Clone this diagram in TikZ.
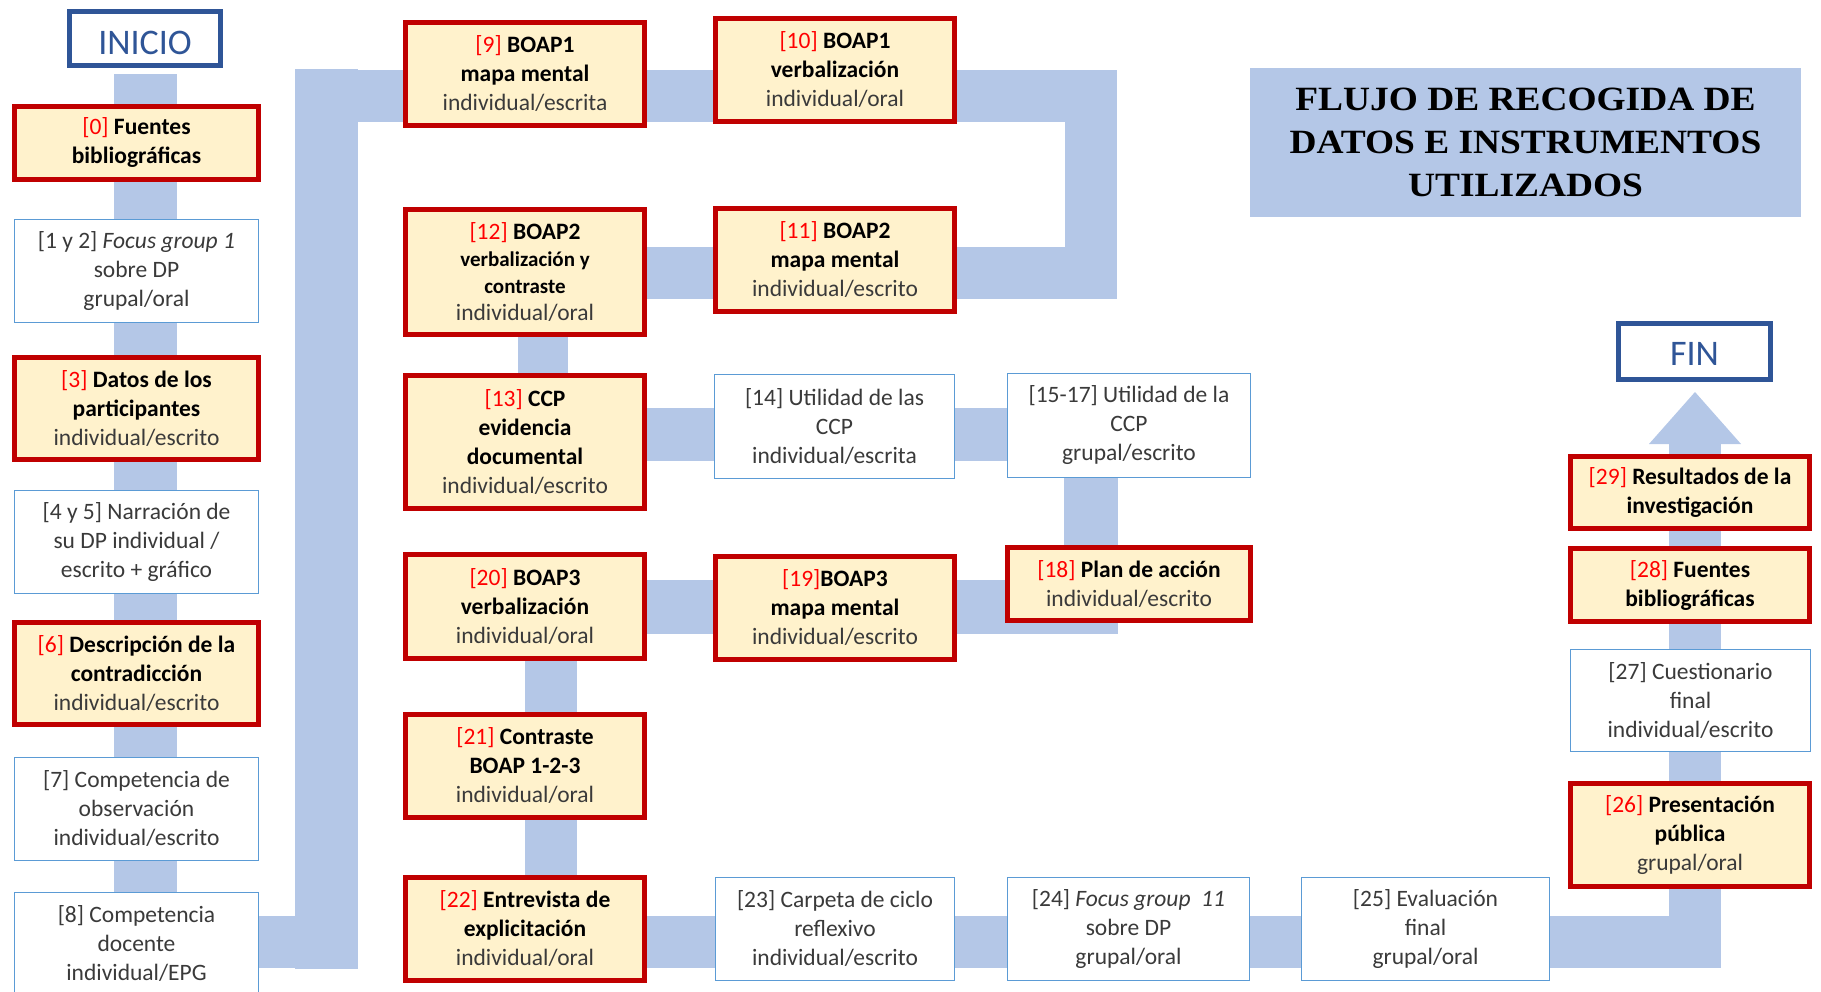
\documentclass[tikz,border=0pt]{standalone}
\usepackage{fontspec}
\setmainfont{Carlito}
\newfontfamily\titlefont[FakeStretch=1.1]{Liberation Serif}
\usetikzlibrary{backgrounds}

\definecolor{bandblue}{HTML}{B4C7E7}
\definecolor{boxred}{HTML}{C00000}
\definecolor{boxfill}{HTML}{FFF2CC}
\definecolor{thinblue}{HTML}{5B9BD5}
\definecolor{endblue}{HTML}{2F5597}
\definecolor{labred}{HTML}{FF0000}
\definecolor{txtgray}{HTML}{3A3A3A}

\newcommand\boxfont{\fontsize{23.5}{29}\selectfont}
\newcommand\lb[1]{\textcolor{labred}{[#1]}}
\newcommand\bb[1]{\textbf{\textcolor{black}{#1}}}

\tikzset{
  redbox/.style={draw=boxred, line width=5pt, fill=boxfill, align=center,
    inner sep=0pt, font=\boxfont, text=txtgray},
  thinbox/.style={draw=thinblue, line width=1.5pt, fill=white, align=center,
    inner sep=0pt, font=\boxfont, text=txtgray},
  endbox/.style={draw=endblue, line width=4.5pt, fill=white, inner sep=0pt,
    font=\fontsize{36}{40}\selectfont, text=endblue, text depth=0pt},
  band/.style={draw=bandblue, line width=52pt, line join=miter, line cap=butt},
  vband/.style={draw=bandblue, line width=63pt, line cap=butt},
  leftcol/.style={minimum width=244pt},
  midcol/.style={minimum width=239pt},
}

\begin{document}
\begin{tikzpicture}[x=1pt, y=-1pt]
\useasboundingbox (0,0) rectangle (1821,992);

% start and end markers (text sits a little below the middle)
\node[endbox, minimum width=151pt, minimum height=54pt, text height=33pt] (inicio) at (145,38.5) {INICIO};
\node[endbox, minimum width=152pt, minimum height=56pt, text height=28pt] (fin) at (1694.5,351.5) {FIN};

% title
\node[fill=bandblue, minimum width=551pt, minimum height=149pt, inner sep=0pt,
  align=center, font=\titlefont\bfseries\fontsize{34}{43}\selectfont] (title)
  at (1525.5,142.5) {FLUJO DE RECOGIDA DE\\DATOS E INSTRUMENTOS\\UTILIZADOS};

% left column
\node[redbox, leftcol, minimum height=73pt] (n0) at (136.5,143)
  {\lb{0} \bb{Fuentes}\\\bb{bibliográficas}};
\node[thinbox, leftcol, minimum height=103pt] (n1) at (136.5,271)
  {[1 y 2] \textit{Focus group 1}\\sobre DP\\grupal/oral};
\node[redbox, leftcol, minimum height=102pt] (n3) at (136.5,408.5)
  {\lb{3} \bb{Datos de los}\\\bb{participantes}\\individual/escrito};
\node[thinbox, leftcol, minimum height=103pt] (n4) at (136.5,542)
  {[4 y 5] Narración de\\su DP individual /\\escrito + gráfico};
\node[redbox, leftcol, minimum height=102pt] (n6) at (136.5,673.5)
  {\lb{6} \bb{Descripción de la}\\\bb{contradicción}\\individual/escrito};
\node[thinbox, leftcol, minimum height=103pt] (n7) at (136.5,809)
  {[7] Competencia de\\observación\\individual/escrito};
\node[thinbox, leftcol, minimum height=103pt] (n8) at (136.5,944)
  {[8] Competencia\\docente\\individual/EPG};

% second column
\node[redbox, midcol, minimum height=103pt] (n9) at (525,74)
  {\lb{9} \bb{BOAP1}\\\bb{mapa mental}\\individual/escrita};
\node[redbox, midcol, minimum height=125pt, font=\fontsize{23.5}{27}\selectfont] (n12) at (525,272)
  {\lb{12} \bb{BOAP2}\\{\fontsize{21}{27}\selectfont\bb{verbalización y}}\\{\fontsize{21}{27}\selectfont\bb{contraste}}\\individual/oral};
\node[redbox, midcol, minimum height=133pt] (n13) at (525,442)
  {\lb{13} \bb{CCP}\\\bb{evidencia}\\\bb{documental}\\individual/escrito};
\node[redbox, midcol, minimum height=104pt] (n20) at (525,606.5)
  {\lb{20} \bb{BOAP3}\\\bb{verbalización}\\individual/oral};
\node[redbox, midcol, minimum height=103pt] (n21) at (525,766)
  {\lb{21} \bb{Contraste}\\\bb{BOAP 1-2-3}\\individual/oral};
\node[redbox, midcol, minimum height=103pt] (n22) at (525,929)
  {\lb{22} \bb{Entrevista de}\\\bb{explicitación}\\individual/oral};

% third column
\node[redbox, midcol, minimum height=103pt] (n10) at (835,70)
  {\lb{10} \bb{BOAP1}\\\bb{verbalización}\\individual/oral};
\node[redbox, midcol, minimum height=103pt] (n11) at (835,260)
  {\lb{11} \bb{BOAP2}\\\bb{mapa mental}\\individual/escrito};
\node[thinbox, minimum width=240pt, minimum height=104pt] (n14) at (834.5,426.5)
  {[14] Utilidad de las\\CCP\\individual/escrita};
\node[redbox, midcol, minimum height=103pt] (n19) at (835,608)
  {\lb{19}\bb{BOAP3}\\\bb{mapa mental}\\individual/escrito};
\node[thinbox, midcol, minimum height=103pt] (n23) at (835,929)
  {[23] Carpeta de ciclo\\reflexivo\\individual/escrito};

% fourth column
\node[thinbox, minimum width=243pt, minimum height=104pt] (n15) at (1129,425.5)
  {[15-17] Utilidad de la\\CCP\\grupal/escrito};
\node[redbox, minimum width=243pt, minimum height=73pt] (n18) at (1129,584)
  {\lb{18} \bb{Plan de acción}\\individual/escrito};
\node[thinbox, minimum width=242pt, minimum height=103pt] (n24) at (1128.5,929)
  {[24] \textit{Focus group}\ \ \textit{11}\\sobre DP\\grupal/oral};
\node[thinbox, minimum width=248pt, minimum height=103pt] (n25) at (1425.5,929)
  {[25] Evaluación\\final\\grupal/oral};

% right column
\node[redbox, midcol, minimum height=72pt] (n29) at (1690,492.5)
  {\lb{29} \bb{Resultados de la}\\\bb{investigación}};
\node[redbox, midcol, minimum height=73pt] (n28) at (1690,585)
  {\lb{28} \bb{Fuentes}\\\bb{bibliográficas}};
\node[thinbox, minimum width=240pt, minimum height=102pt] (n27) at (1690.5,700.5)
  {[27] Cuestionario\\final\\individual/escrito};
\node[redbox, midcol, minimum height=103pt] (n26) at (1690,835)
  {\lb{26} \bb{Presentación}\\\bb{pública}\\grupal/oral};

% flow bands behind the boxes
\begin{scope}[on background layer]
  % down the left column
  \draw[vband] ([yshift=-6.5pt]inicio.south) -- (inicio.south |- n8.center);
  % back up and through the BOAP1 / BOAP2 loop
  \coordinate (r1) at (326.5,942);
  \coordinate (r2) at (326.5,96);
  \coordinate (r3) at (1090.5,96);
  \coordinate (r4) at (1090.5,273);
  \draw[band] (n8.center |- r1) -- (r1) -- (r2) -- (r3) -- (r4) -- (n12.center |- r4);
  \draw[vband] ([yshift=-27pt]r1) -- ([yshift=27pt]r2);
  % BOAP2 to CCP
  \draw[band, line width=50pt] ([xshift=18pt]n12.center) -- ([xshift=18pt]n13.center);
  % CCP row
  \coordinate (m1) at ([yshift=7.5pt]n13.center);
  \draw[band, line width=53pt] (m1) -- (m1 -| n15.center);
  % down to the plan and back to BOAP3
  \coordinate (m2) at (1090.5,606.5);
  \draw[band, line width=54pt] (m2 |- n15.center) -- (m2) -- (n20.center);
  % BOAP3 down to the interview
  \draw[band] ([xshift=26pt]n20.center) -- ([xshift=26pt]n22.center);
  % bottom row and up to the end
  \coordinate (m3) at (1695,942);
  \coordinate (m4) at (1695,444);
  \draw[band] (m3 -| n22.center) -- (m3) -- (m4);
  \fill[bandblue] ([xshift=-46pt]m4) -- ([xshift=46pt]m4) -- ([yshift=52pt]m4) -- cycle;
\end{scope}
\end{tikzpicture}
\end{document}
